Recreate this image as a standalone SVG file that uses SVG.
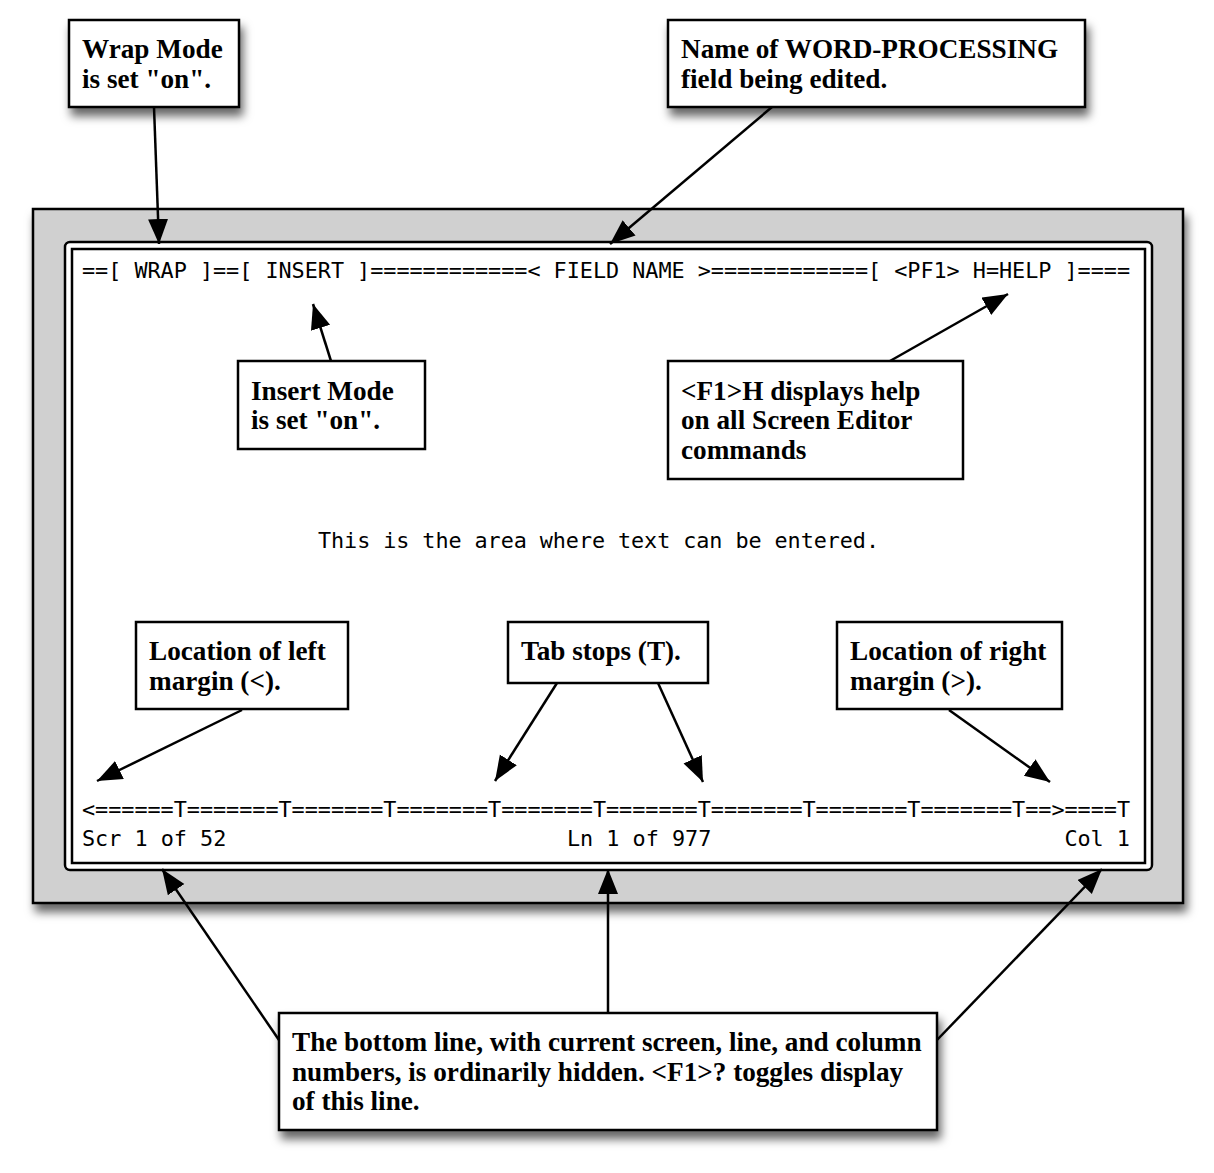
<svg xmlns="http://www.w3.org/2000/svg" width="1214" height="1173" viewBox="0 0 1214 1173">
<style>
.callout{fill:#fff;stroke:#000;stroke-width:2.5}
.lbl{font-family:"Liberation Serif","Times New Roman",serif;font-weight:bold;font-size:27.2px;fill:#000}
.mono{font-family:"DejaVu Sans Mono",monospace;font-size:21.8px;fill:#000}
.conn{stroke:#000;stroke-width:2.5;fill:none;marker-end:url(#ah)}
</style>
<defs>
<filter id="sh" x="-10%" y="-10%" width="125%" height="135%">
<feDropShadow dx="3" dy="8" stdDeviation="5" flood-color="#000" flood-opacity="0.6"/>
</filter>
<marker id="ah" markerUnits="userSpaceOnUse" markerWidth="26" markerHeight="22" refX="25" refY="10" orient="auto">
<path d="M0,0 L25,10 L0,20 z" fill="#000"/>
</marker>
</defs>
<rect width="1214" height="1173" fill="#fff"/>
<g id="screen">
<rect x="33" y="209" width="1150" height="694" fill="#d0d0d0" stroke="#000" stroke-width="2.5" filter="url(#sh)"/>
<rect x="65" y="242" width="1087" height="628" rx="5" fill="#fff" stroke="#000" stroke-width="2.5"/>
<rect x="72" y="249" width="1073" height="614" fill="#fff" stroke="#000" stroke-width="2.5"/>
<text class="mono" x="82" y="278" textLength="1048" lengthAdjust="spacing">==[ WRAP ]==[ INSERT ]============&lt; FIELD NAME &gt;============[ &lt;PF1&gt; H=HELP ]====</text>
<text class="mono" x="318" y="548" textLength="561" lengthAdjust="spacing">This is the area where text can be entered.</text>
<text class="mono" x="82" y="817" textLength="1048" lengthAdjust="spacing">&lt;======T=======T=======T=======T=======T=======T=======T=======T=======T==&gt;====T</text>
<text class="mono" x="82" y="846">Scr 1 of 52</text>
<text class="mono" x="567" y="846">Ln 1 of 977</text>
<text class="mono" x="1130" y="846" text-anchor="end">Col 1</text>
</g>
<g id="wrap-note">
<rect class="callout" x="69" y="20" width="170" height="87" filter="url(#sh)"/>
<text class="lbl" x="82" y="58">Wrap Mode</text>
<text class="lbl" x="82" y="88">is set "on".</text>
</g>
<g id="name-note">
<rect class="callout" x="668" y="20" width="417" height="87" filter="url(#sh)"/>
<text class="lbl" x="681" y="58">Name of WORD-PROCESSING</text>
<text class="lbl" x="681" y="88">field being edited.</text>
</g>
<g id="insert-note">
<rect class="callout" x="238" y="361" width="187" height="88"/>
<text class="lbl" x="251" y="400">Insert Mode</text>
<text class="lbl" x="251" y="429">is set "on".</text>
</g>
<g id="help-note">
<rect class="callout" x="668" y="361" width="295" height="118"/>
<text class="lbl" x="681" y="400">&lt;F1&gt;H displays help</text>
<text class="lbl" x="681" y="429">on all Screen Editor</text>
<text class="lbl" x="681" y="459">commands</text>
</g>
<g id="left-note">
<rect class="callout" x="136" y="622" width="212" height="87"/>
<text class="lbl" x="149" y="660">Location of left</text>
<text class="lbl" x="149" y="690">margin (&lt;).</text>
</g>
<g id="tab-note">
<rect class="callout" x="508" y="622" width="200" height="61"/>
<text class="lbl" x="521" y="660">Tab stops (T).</text>
</g>
<g id="right-note">
<rect class="callout" x="837" y="622" width="225" height="87"/>
<text class="lbl" x="850" y="660">Location of right</text>
<text class="lbl" x="850" y="690">margin (&gt;).</text>
</g>
<g id="bottom-note">
<rect class="callout" x="279" y="1013" width="658" height="117" filter="url(#sh)"/>
<text class="lbl" x="292" y="1051">The bottom line, with current screen, line, and column</text>
<text class="lbl" x="292" y="1081">numbers, is ordinarily hidden. &lt;F1&gt;? toggles display</text>
<text class="lbl" x="292" y="1110">of this line.</text>
</g>
<g id="connectors">
<line class="conn" x1="154" y1="107" x2="159" y2="244"/>
<line class="conn" x1="772" y1="107" x2="610" y2="244"/>
<line class="conn" x1="331" y1="361" x2="313" y2="304"/>
<line class="conn" x1="890" y1="361" x2="1008" y2="294"/>
<line class="conn" x1="242" y1="710" x2="97" y2="781"/>
<line class="conn" x1="557" y1="683" x2="495" y2="781"/>
<line class="conn" x1="658" y1="683" x2="703" y2="782"/>
<line class="conn" x1="949" y1="710" x2="1050" y2="782"/>
<line class="conn" x1="279" y1="1040" x2="162" y2="869"/>
<line class="conn" x1="608" y1="1013" x2="608" y2="869"/>
<line class="conn" x1="937" y1="1040" x2="1102" y2="869"/>
</g>
</svg>
